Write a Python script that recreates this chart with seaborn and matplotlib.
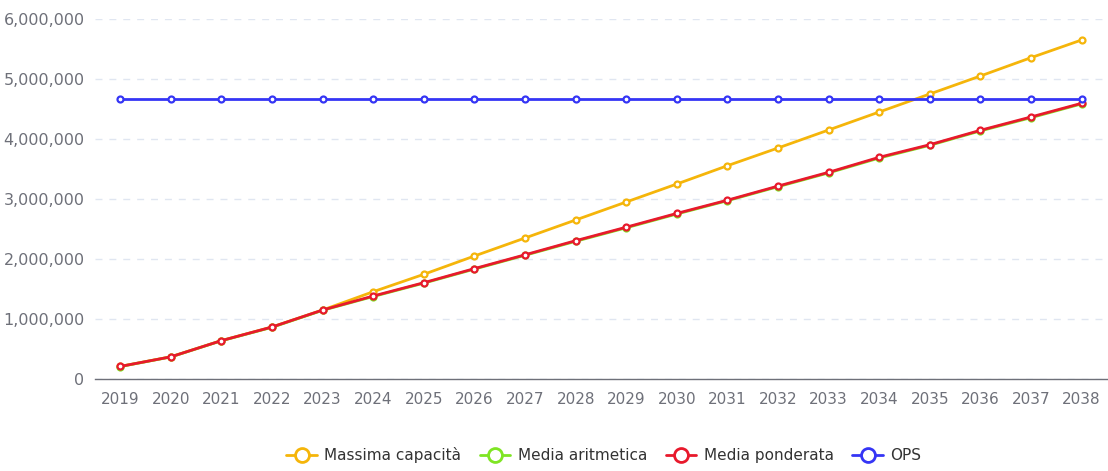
import matplotlib
matplotlib.use('Agg')
import pandas as pd
import matplotlib.pyplot as plt
import seaborn as sns
from matplotlib.lines import Line2D
from matplotlib.ticker import FuncFormatter

years = [str(y) for y in range(2019, 2039)]

massima_capacita = [210000, 370000, 640000, 867000, 1150000, 1455000, 1745000, 2050000, 2350000, 2650000,
                    2950000, 3250000, 3555000, 3850000, 4150000, 4450000, 4750000, 5050000, 5355000, 5650000]
media_aritmetica = [208000, 368000, 638000, 862000, 1145000, 1375000, 1598000, 1832000, 2062000, 2295000,
                    2520000, 2750000, 2972000, 3205000, 3435000, 3683000, 3895000, 4135000, 4355000, 4585000]
media_ponderata = [210000, 370000, 640000, 867000, 1150000, 1383000, 1605000, 1840000, 2070000, 2305000,
                   2530000, 2760000, 2980000, 3215000, 3445000, 3695000, 3905000, 4145000, 4367000, 4595000]
ops = [4667000] * 20

series_names = ["Massima capacità", "Media aritmetica", "Media ponderata", "OPS"]
series_values = [massima_capacita, media_aritmetica, media_ponderata, ops]
colors = ["#f5b50a", "#7fe524", "#e8192c", "#3535f5"]

rows = []
for name, vals in zip(series_names, series_values):
    for yr, v in zip(years, vals):
        rows.append({"Anno": yr, "Valore": v, "Serie": name})
df = pd.DataFrame(rows)

sns.set_style("white")
plt.rcParams['font.family'] = ['DejaVu Sans']

fig = plt.figure(figsize=(11.08, 4.71), dpi=100)
ax = fig.add_axes([0.0857, 0.1953, 0.9133, 0.7644])

sns.lineplot(data=df, x="Anno", y="Valore", hue="Serie", hue_order=series_names,
             palette=colors, linewidth=2, marker="o", markersize=4.3,
             markerfacecolor="white", markeredgewidth=1.6, legend=False, ax=ax,
             sort=False)
# marker edge colors follow the line colour
for line, c in zip(ax.get_lines(), colors):
    line.set_markeredgecolor(c)
    line.set_markerfacecolor("white")

ax.set_xlim(-0.5, len(years) - 0.5)
ax.set_ylim(0, 6000000)
ax.set_yticks(range(0, 6000001, 1000000))
ax.yaxis.set_major_formatter(FuncFormatter(lambda v, p: f"{int(v):,}"))
ax.set_xlabel("")
ax.set_ylabel("")

ax.grid(axis="y", linestyle=(0, (5, 5)), color="#e0e6f1", linewidth=1)
ax.grid(axis="x", visible=False)
for s in ["top", "right", "left"]:
    ax.spines[s].set_visible(False)
ax.spines["bottom"].set_color("#6e7079")
ax.spines["bottom"].set_linewidth(1)

ax.set_xticks(range(len(years)))
ax.set_xticklabels(years)
ax.set_xticks([i - 0.5 for i in range(len(years) + 1)], minor=True)
ax.tick_params(axis="x", which="major", length=0, pad=9, labelsize=11, labelcolor="#6e7079")
ax.tick_params(axis="x", which="minor", length=5, color="#6e7079", width=1)
ax.tick_params(axis="y", length=0, pad=7.5, labelsize=11.5, labelcolor="#6e7079")

handles = [Line2D([0], [0], color=c, linewidth=2, marker="o", markersize=10,
                  markerfacecolor="white", markeredgewidth=2, markeredgecolor=c)
           for c in colors]
fig.legend(handles, series_names, loc="center", bbox_to_anchor=(0.545, 0.034), ncol=4,
           frameon=False, fontsize=11, handlelength=2.0, columnspacing=1.2,
           handletextpad=0.5, labelcolor="#333333")

fig.savefig("out.png", dpi=100)
